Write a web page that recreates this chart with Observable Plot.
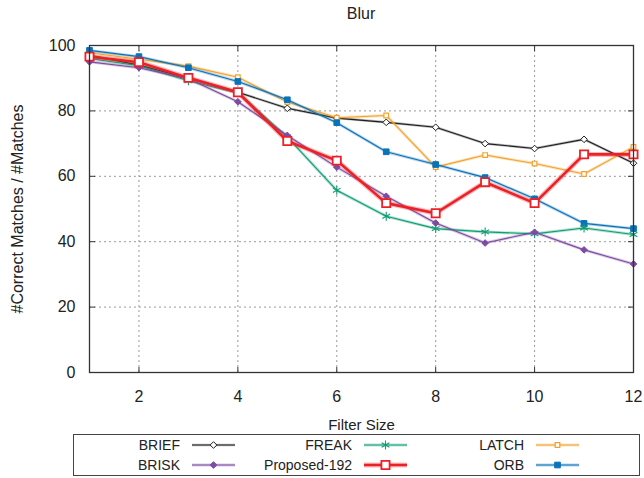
<!DOCTYPE html>
<html><head><meta charset="utf-8">
<script src="https://cdn.jsdelivr.net/npm/d3@7"></script>
<script src="https://cdn.jsdelivr.net/npm/@observablehq/plot@0.6"></script>
<style>
body{margin:0;background:#fff;font-family:"Liberation Sans",Arial,sans-serif;color:#222}
#wrap{position:relative;width:644px;height:478px;overflow:hidden}
#title{height:24px;width:722px;text-align:center;font-size:16px;line-height:28px}
#legend{margin-left:73px;width:565px;height:40px;border:1px solid #444;display:grid;grid-template-columns:172px 172px 172px;grid-auto-flow:column;grid-template-rows:20px 20px}
.entry{display:flex;align-items:center;font-size:14px}
.entry span{width:106px;text-align:right;margin-right:12px;white-space:nowrap}
svg{display:block}
</style></head>
<body><div id="wrap"><div id="title">Blur</div><div id="chart"></div><div id="legend"></div></div>
<script>
const filterSize = [1, 2, 3, 4, 5, 6, 7, 8, 9, 10, 11, 12];
const briefValues    = [97.0, 94.0, 90.0, 85.7, 80.8, 77.8, 76.5, 75.0, 70.0, 68.5, 71.3, 64.0];
const briskValues    = [95.0, 93.2, 89.8, 82.8, 72.5, 62.8, 53.9, 45.7, 39.6, 42.9, 37.5, 33.2];
const freakValues    = [96.0, 93.8, 89.2, 85.5, 72.0, 55.7, 47.8, 44.0, 43.0, 42.4, 44.2, 42.2];
const latchValues    = [97.8, 95.8, 93.7, 90.3, 82.7, 77.9, 78.6, 62.8, 66.5, 63.9, 60.7, 69.0];
const orbValues      = [98.5, 96.6, 93.2, 89.0, 83.4, 76.4, 67.5, 63.6, 59.6, 53.1, 45.6, 44.0];
const proposedValues = [96.6, 94.9, 90.1, 85.7, 70.8, 64.8, 51.8, 48.7, 58.2, 51.8, 66.7, 66.7];
const seriesNames = ["BRIEF", "BRISK", "FREAK", "LATCH", "ORB", "Proposed-192"];
const seriesValues = [briefValues, briskValues, freakValues, latchValues, orbValues, proposedValues];
const xTicks = [2, 4, 6, 8, 10, 12];
const yTicks = [0, 20, 40, 60, 80, 100];
const xLabel = "Filter Size";
const yLabel = "#Correct Matches / #Matches";

const styles = {
  "BRIEF":        {color: "#1f1f1f", symbol: "diamond2", fill: "white", r: 3.0, w: 1.1, halo: 2.5, sw: 1},
  "BRISK":        {color: "#7d4ba1", symbol: "diamond2", fill: "#7d4ba1", r: 3.0, w: 1.1, halo: 3, sw: 1},
  "FREAK":        {color: "#0f9e74", symbol: "asterisk", fill: "none", r: 4.2, w: 1.1, halo: 3, sw: 1.1},
  "LATCH":        {color: "#f2a22c", symbol: "square", fill: "white", r: 2.6, w: 1.1, halo: 3, sw: 1.2},
  "ORB":          {color: "#0a72b8", symbol: "square", fill: "#0a72b8", r: 3.2, w: 1.1, halo: 3, sw: 1},
  "Proposed-192": {color: "#ec2127", symbol: "square", fill: "white", r: 4.6, w: 2.6, halo: 5, sw: 1.8}
};
const drawOrder = ["BRIEF", "LATCH", "ORB", "FREAK", "BRISK", "Proposed-192"];
const legendOrder = ["BRIEF", "BRISK", "FREAK", "Proposed-192", "LATCH", "ORB"];

const table = seriesNames.flatMap((s, i) => filterSize.map((x, j) => ({series: s, x, y: seriesValues[i][j]})));

const marks = [
  Plot.gridX(xTicks, {stroke: "#9a9a9a", strokeOpacity: 1, strokeDasharray: "2,3"}),
  Plot.gridY(yTicks, {stroke: "#9a9a9a", strokeOpacity: 1, strokeDasharray: "2,3"}),
  Plot.axisX(xTicks, {anchor: "bottom", tickSize: 0, tickPadding: 18, fontSize: 16, label: null}),
  Plot.axisY(yTicks, {anchor: "left", tickSize: 0, tickPadding: 14, fontSize: 16, label: null}),
  Plot.axisX(xTicks, {anchor: "bottom", tickSize: -5, tickFormat: () => "", label: null, stroke: "#333"}),
  Plot.axisX(xTicks, {anchor: "top", tickSize: -5, tickFormat: () => "", label: null, stroke: "#333"}),
  Plot.axisY(yTicks, {anchor: "left", tickSize: -6, tickFormat: () => "", label: null, stroke: "#333"}),
  Plot.axisY(yTicks, {anchor: "right", tickSize: -6, tickFormat: () => "", label: null, stroke: "#333"}),
  Plot.text([xLabel], {frameAnchor: "bottom", dy: 57, fontSize: 15, fill: "#222"}),
  Plot.text([yLabel], {frameAnchor: "left", textAnchor: "middle", dx: -72, rotate: -90, fontSize: 16, fill: "#222"})
];
for (const s of drawOrder) {
  const st = styles[s];
  const d = table.filter(r => r.series === s);
  marks.push(
    Plot.line(d, {x: "x", y: "y", stroke: st.color, strokeWidth: st.halo, strokeOpacity: 0.3}),
    Plot.line(d, {x: "x", y: "y", stroke: st.color, strokeWidth: st.w}),
    Plot.dot(d, {x: "x", y: "y", symbol: st.symbol, r: st.r, stroke: st.color, fill: st.fill, strokeWidth: st.sw})
  );
}
marks.push(Plot.frame({stroke: "#333", strokeWidth: 1.3}));

const chart = Plot.plot({
  width: 644, height: 410,
  marginLeft: 89, marginRight: 11, marginTop: 21, marginBottom: 62,
  x: {domain: [1, 12]},
  y: {domain: [0, 100]},
  style: {fontFamily: '"Liberation Sans", Arial, sans-serif', color: "#222", background: "white"},
  marks
});
document.getElementById("chart").appendChild(chart);

const legend = document.getElementById("legend");
for (const s of legendOrder) {
  const st = styles[s];
  const e = document.createElement("div");
  e.className = "entry";
  const lab = document.createElement("span");
  lab.textContent = s;
  e.appendChild(lab);
  const sv = d3.create("svg").attr("width", 43).attr("height", 12);
  sv.append("line").attr("x1", 0).attr("x2", 43).attr("y1", 6).attr("y2", 6)
    .attr("stroke", st.color).attr("stroke-width", st.halo).attr("stroke-opacity", 0.3);
  sv.append("line").attr("x1", 0).attr("x2", 43).attr("y1", 6).attr("y2", 6)
    .attr("stroke", st.color).attr("stroke-width", st.w);
  const symMap = {diamond2: d3.symbolDiamond2, square: d3.symbolSquare, asterisk: d3.symbolAsterisk};
  sv.append("path").attr("transform", "translate(21.5,6)")
    .attr("d", d3.symbol(symMap[st.symbol], st.r * st.r * Math.PI)())
    .attr("stroke", st.color).attr("fill", st.fill).attr("stroke-width", st.sw);
  e.appendChild(sv.node());
  legend.appendChild(e);
}
</script></body></html>
